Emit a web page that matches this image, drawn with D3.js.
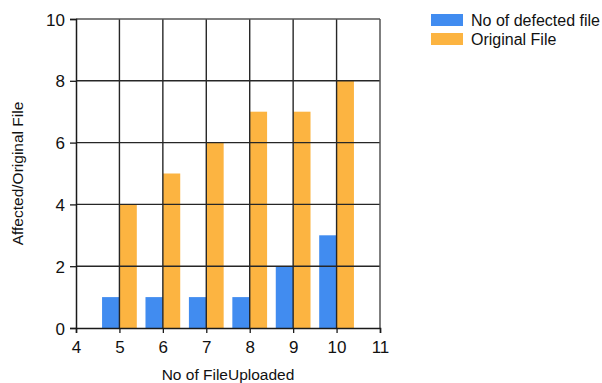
<!DOCTYPE html>
<html>
<head>
<meta charset="utf-8">
<script src="https://cdn.jsdelivr.net/npm/d3@7"></script>
<style>
html,body{margin:0;padding:0;background:#fff;}
svg{display:block;font-family:"Liberation Sans",Arial,sans-serif;}
</style>
</head>
<body>
<svg id="chart" width="602" height="383"></svg>
<script>
const categories = [5, 6, 7, 8, 9, 10];
const defected = [1, 1, 1, 1, 2, 3];
const original = [4, 5, 6, 7, 7, 8];
const seriesNames = ["No of defected file", "Original File"];
const seriesColors = ["#418CF0", "#FCB441"];
const xTicks = [4, 5, 6, 7, 8, 9, 10, 11];
const yTicks = [0, 2, 4, 6, 8, 10];

const svg = d3.select("#chart");
const m = {left: 76, right: 380, top: 19, bottom: 328};
const x = d3.scaleLinear().domain([4, 11]).range([m.left, m.right]);
const y = d3.scaleLinear().domain([0, 10]).range([m.bottom, m.top]);
const barW = 0.4;

// bars
const series = [defected, original];
series.forEach((vals, si) => {
  svg.append("g").selectAll("rect").data(categories).join("rect")
    .attr("x", (d) => si === 0 ? x(d - barW) : x(d))
    .attr("width", x(4 + barW) - x(4))
    .attr("y", (d, i) => y(vals[i]))
    .attr("height", (d, i) => y(0) - y(vals[i]))
    .attr("fill", seriesColors[si]);
});

// grid lines
const grid = svg.append("g").attr("stroke", "#262626").attr("stroke-width", 1.4);
xTicks.slice(1, -1).forEach(t => {
  grid.append("line").attr("x1", x(t)).attr("x2", x(t)).attr("y1", m.top).attr("y2", m.bottom);
});
yTicks.slice(1, -1).forEach(t => {
  grid.append("line").attr("x1", m.left).attr("x2", m.right).attr("y1", y(t)).attr("y2", y(t));
});
// outer border (top/right lighter)
svg.append("line").attr("x1", m.left).attr("x2", m.right).attr("y1", m.top).attr("y2", m.top)
  .attr("stroke", "#555").attr("stroke-width", 1.5);
svg.append("line").attr("x1", m.right).attr("x2", m.right).attr("y1", m.top).attr("y2", m.bottom)
  .attr("stroke", "#555").attr("stroke-width", 1.5);

// axes
const xAxis = d3.axisBottom(x).tickValues(xTicks).tickSize(5).tickPadding(8).tickFormat(d3.format("d"));
const yAxis = d3.axisLeft(y).tickValues(yTicks).tickSize(6).tickPadding(5).tickFormat(d3.format("d"));
const gx = svg.append("g").attr("transform", `translate(0,${m.bottom})`).call(xAxis);
const gy = svg.append("g").attr("transform", `translate(${m.left},0)`).call(yAxis);
[gx, gy].forEach(g => {
  g.select(".domain").attr("stroke", "#1a1a1a").attr("stroke-width", 1.5);
  g.selectAll(".tick line").attr("stroke", "#1a1a1a").attr("stroke-width", 1.3);
  g.selectAll(".tick text").attr("fill", "#111").style("font-size", "17px")
    .style("font-family", '"Liberation Sans",Arial,sans-serif');
});
gy.selectAll(".tick text").attr("dy", "0.36em");

// axis titles
svg.append("text").attr("x", (m.left + m.right) / 2).attr("y", 380)
  .attr("text-anchor", "middle").style("font-size", "15.5px").attr("fill", "#111")
  .text("No of FileUploaded");
svg.append("text").attr("transform", `translate(23,${(m.top + m.bottom) / 2}) rotate(-90)`)
  .attr("text-anchor", "middle").style("font-size", "15.5px").attr("fill", "#111")
  .text("Affected/Original File");

// legend
const leg = svg.append("g");
seriesNames.forEach((name, i) => {
  leg.append("rect").attr("x", 431).attr("y", 14 + i * 19).attr("width", 32).attr("height", 12)
    .attr("fill", seriesColors[i]);
  leg.append("text").attr("x", 471).attr("y", 26 + i * 19).style("font-size", "16px").attr("fill", "#111")
    .text(name);
});
</script>
</body>
</html>
